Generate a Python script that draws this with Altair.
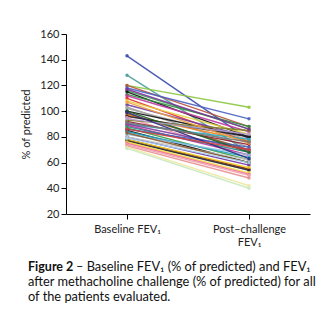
import altair as alt
import pandas as pd

baseline = [143, 128, 120, 120, 118, 116, 115, 113, 112, 110,
            108, 105, 103, 102, 100, 98, 97, 96, 95, 92,
            90, 90, 89, 88, 87, 86, 85, 84, 82, 80,
            80, 78, 78, 77, 76, 75, 74, 73, 72, 71,
            93, 100, 107, 94, 83, 99, 117, 91, 86, 79]
post = [78, 68, 103, 88, 94, 86, 80, 88, 84, 76,
        82, 80, 72, 78, 80, 70, 77, 80, 65, 74,
        78, 70, 66, 68, 62, 72, 60, 64, 66, 58,
        62, 55, 56, 54, 52, 51, 50, 48, 42, 40,
        85, 68, 75, 82, 60, 63, 86, 76, 70, 60]
colors = ["#3b4ba8", "#4a9a9a", "#8cc63f", "#b5533c", "#4a5fc0", "#3aa84a", "#111111", "#2e8b3e", "#c03aa0", "#e03030",
          "#e8d040", "#7040a0", "#999999", "#aaaaaa", "#111111", "#8b5a2b", "#f08020", "#222222", "#f090b0", "#8b1a2a",
          "#20b0c8", "#8040a0", "#c030a0", "#308888", "#40a040", "#4060c0", "#111111", "#20a0c0", "#90c0e0", "#7030a0",
          "#c8c8c8", "#8b1a1a", "#f0d020", "#222222", "#f0e040", "#f07090", "#f0a0b0", "#e89090", "#f0e8a0", "#c8e8c0",
          "#808020", "#206020", "#f0a040", "#b0a0d0", "#8b5a2b", "#2a2a80", "#8030a0", "#777777", "#d04040", "#a0d0f0"]
categories = ["Baseline", "Post"]

rows = []
for i, (b, p) in enumerate(zip(baseline, post)):
    rows.append({"pid": i, "cond": categories[0], "val": b, "col": colors[i]})
    rows.append({"pid": i, "cond": categories[1], "val": p, "col": colors[i]})
df = pd.DataFrame(rows)

x = alt.X("cond:N", sort=categories,
          scale=alt.Scale(type="point", padding=0.5),
          axis=alt.Axis(title=None, labelAngle=0, labelFont="Lato", labelFontSize=11,
                        labelColor="#222", tickColor="#000", domainColor="#000",
                        tickSize=5, labelPadding=4, labelBaseline="top",
                        labelExpr="datum.value == 'Post' ? ['Post–challenge', 'FEV₁'] : 'Baseline FEV₁'",
                        labelLineHeight=13))
y = alt.Y("val:Q", scale=alt.Scale(domain=[20, 160], nice=False, zero=False),
          axis=alt.Axis(title="% of predicted", titleFont="Lato", titleFontSize=11,
                        titleFontWeight="normal", titleColor="#222", titlePadding=8,
                        labelFont="Lato", labelFontSize=11, labelColor="#222",
                        values=[20, 40, 60, 80, 100, 120, 140, 160],
                        tickColor="#000", domainColor="#000", tickSize=5, grid=False))

lines = alt.Chart(df).mark_line(strokeWidth=1.4, opacity=0.9).encode(
    x=x, y=y, detail="pid:N", color=alt.Color("col:N", scale=None))
pts = alt.Chart(df).mark_point(filled=True, size=12, opacity=0.9).encode(
    x=x, y=y, color=alt.Color("col:N", scale=None))

cap_font = "Lato"
one = pd.DataFrame({"k": [0]})


def cap_text(txt, xp, yp, bold=False, size=12.8):
    return alt.Chart(one).mark_text(text=txt, font=cap_font, fontSize=size,
                                    fontWeight="bold" if bold else "normal", align="left",
                                    baseline="alphabetic", color="#111").encode(
        x=alt.value(xp), y=alt.value(yp))


cap = [
    cap_text("Figure 2", -38, 237, bold=True, size=12.5),
    cap_text("– Baseline FEV₁ (% of predicted) and FEV₁", 10, 237),
    cap_text("after methacholine challenge (% of predicted) for all", -38, 252),
    cap_text("of the patients evaluated.", -38, 267),
]

chart = alt.layer(lines, pts, *cap).properties(
    width=244, height=180,
    autosize=alt.AutoSizeParams(type="none"),
    padding={"left": 66, "top": 34, "right": 19, "bottom": 111},
    background="white",
).configure_view(stroke=None)

chart.save("out.html", embed_options={"renderer": "svg", "actions": False})
